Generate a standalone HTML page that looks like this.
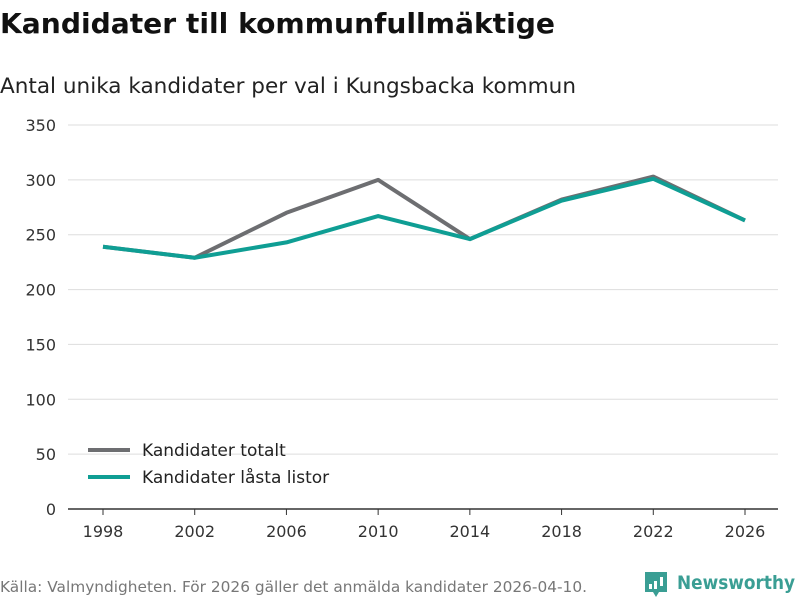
<!DOCTYPE html>
<html><head><meta charset="utf-8"><style>
body{margin:0;width:800px;height:600px;background:#fff;font-family:"Liberation Sans","DejaVu Sans",sans-serif;overflow:hidden}
</style></head><body>
<svg id="c" width="800" height="600">
<text x="0" y="33" font-size="28" font-weight="bold" fill="#111" font-family="DejaVu Sans, sans-serif" textLength="555" lengthAdjust="spacingAndGlyphs">Kandidater till kommunfullmäktige</text>
<text x="0" y="93" font-size="21.5" fill="#222" font-family="DejaVu Sans, sans-serif" textLength="576" lengthAdjust="spacingAndGlyphs">Antal unika kandidater per val i Kungsbacka kommun</text>
<g id="grid"></g><g id="lines"></g>
<g>
<line x1="88" y1="450" x2="130" y2="450" stroke="#6d6e71" stroke-width="4"/>
<text x="142" y="456" font-size="17" fill="#222" font-family="DejaVu Sans, sans-serif">Kandidater totalt</text>
<line x1="88" y1="477" x2="130" y2="477" stroke="#0f9e94" stroke-width="4"/>
<text x="142" y="483" font-size="17" fill="#222" font-family="DejaVu Sans, sans-serif">Kandidater låsta listor</text>
</g>
<text x="0" y="592" font-size="15" fill="#777" font-family="DejaVu Sans, sans-serif" textLength="587" lengthAdjust="spacingAndGlyphs">Källa: Valmyndigheten. För 2026 gäller det anmälda kandidater 2026-04-10.</text>
<g>
<path d="M645 572h22v20h-8l-3 5-3-5h-8z" fill="#3a9e94"/>
<rect x="649" y="584" width="3" height="5" fill="#fff"/><rect x="654" y="581" width="3" height="8" fill="#fff"/><rect x="660" y="577" width="3" height="9" fill="#fff"/>
<text x="677" y="589" font-size="19" font-weight="bold" fill="#3a9e94" font-family="DejaVu Sans, sans-serif" textLength="118" lengthAdjust="spacingAndGlyphs">Newsworthy</text>
</g>
</svg>
<script>
const years=[1998,2002,2006,2010,2014,2018,2022,2026];
const totalt=[239,229,270,300,246,282,303,263];
const lasta=[239,229,243,267,246,281,301,263];
const yTicks=[0,50,100,150,200,250,300,350];
const NS="http://www.w3.org/2000/svg";
const x=v=>103+(v-1998)*(745-103)/28;
const y=v=>509-v*384/350;
const g=document.getElementById('grid'),L=document.getElementById('lines');
function mk(t,a,p){const e=document.createElementNS(NS,t);for(const k in a)e.setAttribute(k,a[k]);p.appendChild(e);return e;}
yTicks.forEach(t=>{
 const ln=mk('line',{x1:68,x2:778,y1:y(t),y2:y(t),stroke:t===0?'#333':'#ddd','stroke-width':t===0?1.5:1},g);
 
 
 const tx=mk('text',{x:56,y:y(t)+6,'text-anchor':'end','font-size':16,fill:'#333','font-family':'DejaVu Sans, sans-serif'},g);tx.textContent=t;
 
 
});
years.forEach(v=>{
 const tk=mk('line',{x1:x(v),x2:x(v),y1:509,y2:515,stroke:'#333'},g);
 
 
 const tx=mk('text',{x:x(v),y:537,'text-anchor':'middle','font-size':16,fill:'#333','font-family':'DejaVu Sans, sans-serif'},g);tx.textContent=v;
 
 
});
[[totalt,'#6d6e71','line-totalt'],[lasta,'#0f9e94','line-lasta']].forEach(([d,c,n])=>{
 const p=mk('polyline',{points:d.map((v,i)=>x(years[i])+','+y(v)).join(' '),fill:'none',stroke:c,'stroke-width':4,'stroke-linejoin':'round'},L);
 
 
});
</script>
</body></html>
